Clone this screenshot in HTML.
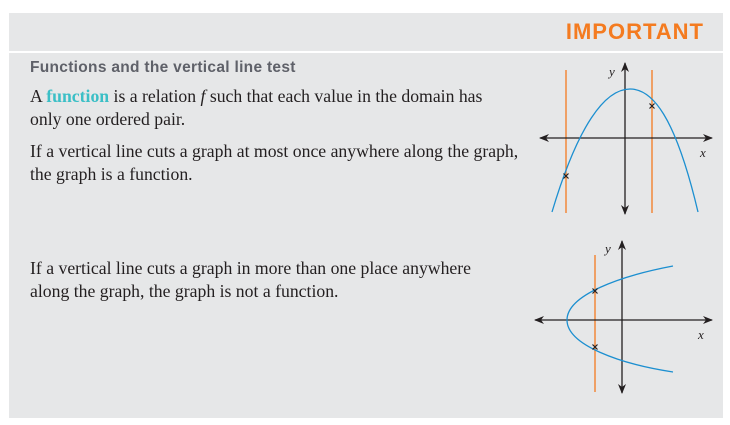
<!DOCTYPE html>
<html><head><meta charset="utf-8"><style>
body{margin:0;width:730px;height:425px;background:#fff;position:relative;overflow:hidden;font-family:"Liberation Serif",serif}
.p{position:absolute}
.t{position:absolute;left:30px;font-size:17.7px;color:#231f20;line-height:23px;white-space:nowrap}
</style></head><body>
<div class="p" style="left:9px;top:13px;width:714px;height:38px;background:#e6e7e8"></div>
<div class="p" style="right:26px;top:19px;font:bold 22px 'Liberation Sans',sans-serif;color:#f47b20;letter-spacing:1px">IMPORTANT</div>
<div class="p" style="left:9px;top:53px;width:714px;height:365px;background:#e6e7e8"></div>
<div class="p" style="left:30px;top:59px;font:bold 15.5px 'Liberation Sans',sans-serif;color:#5f6169;letter-spacing:0.3px">Functions and the vertical line test</div>
<div class="t" style="top:85px">A <b style="color:#3bbfc6">function</b> is a relation <i>f</i> such that each value in the domain has<br>only one ordered pair.</div>
<div class="t" style="top:140px">If a vertical line cuts a graph at most once anywhere along the graph,<br>the graph is a function.</div>
<div class="t" style="top:257px">If a vertical line cuts a graph in more than one place anywhere<br>along the graph, the graph is not a function.</div>
<svg class="p" style="left:0;top:0" width="730" height="425">
<defs><marker id="a" markerWidth="10" markerHeight="8" refX="9" refY="4" orient="auto" markerUnits="userSpaceOnUse"><path d="M0,0L10,4L0,8L3,4Z" fill="#231f20"/></marker>
<g id="x"><path d="M-2.5,-2.5L2.5,2.5M-2.5,2.5L2.5,-2.5" stroke="#231f20" stroke-width="1.2"/></g></defs>
<g>
<line x1="566" y1="70" x2="566" y2="213" stroke="#f47b20" stroke-width="1.3"/>
<line x1="652" y1="70" x2="652" y2="213" stroke="#f47b20" stroke-width="1.3"/>
<line x1="575" y1="138" x2="540" y2="138" stroke="#231f20" stroke-width="1.3" marker-end="url(#a)"/>
<line x1="575" y1="138" x2="712" y2="138" stroke="#231f20" stroke-width="1.3" marker-end="url(#a)"/>
<line x1="625" y1="140" x2="625" y2="63" stroke="#231f20" stroke-width="1.3" marker-end="url(#a)"/>
<line x1="625" y1="140" x2="625" y2="214" stroke="#231f20" stroke-width="1.3" marker-end="url(#a)"/>
<path d="M552 212 C578 125,605 89,630 89 C652 89,675 115,698 212" fill="none" stroke="#1c8fd0" stroke-width="1.3"/>
<use href="#x" x="566" y="176"/>
<use href="#x" x="652" y="106"/>
<text x="609" y="76" font-size="13" font-style="italic" fill="#231f20">y</text>
<text x="700" y="157" font-size="13" font-style="italic" fill="#231f20">x</text>
</g>
<g>
<line x1="595" y1="255" x2="595" y2="392" stroke="#f47b20" stroke-width="1.3"/>
<line x1="575" y1="320" x2="535" y2="320" stroke="#231f20" stroke-width="1.3" marker-end="url(#a)"/>
<line x1="575" y1="320" x2="712" y2="320" stroke="#231f20" stroke-width="1.3" marker-end="url(#a)"/>
<line x1="622" y1="322" x2="622" y2="241" stroke="#231f20" stroke-width="1.3" marker-end="url(#a)"/>
<line x1="622" y1="322" x2="622" y2="393" stroke="#231f20" stroke-width="1.3" marker-end="url(#a)"/>
<path d="M673 266 C620 276,567 295,567 320 C567 345,620 364,673 372" fill="none" stroke="#1c8fd0" stroke-width="1.3"/>
<use href="#x" x="595" y="291"/>
<use href="#x" x="595" y="347"/>
<text x="605" y="253" font-size="13" font-style="italic" fill="#231f20">y</text>
<text x="698" y="339" font-size="13" font-style="italic" fill="#231f20">x</text>
</g>
</svg>
</body></html>
